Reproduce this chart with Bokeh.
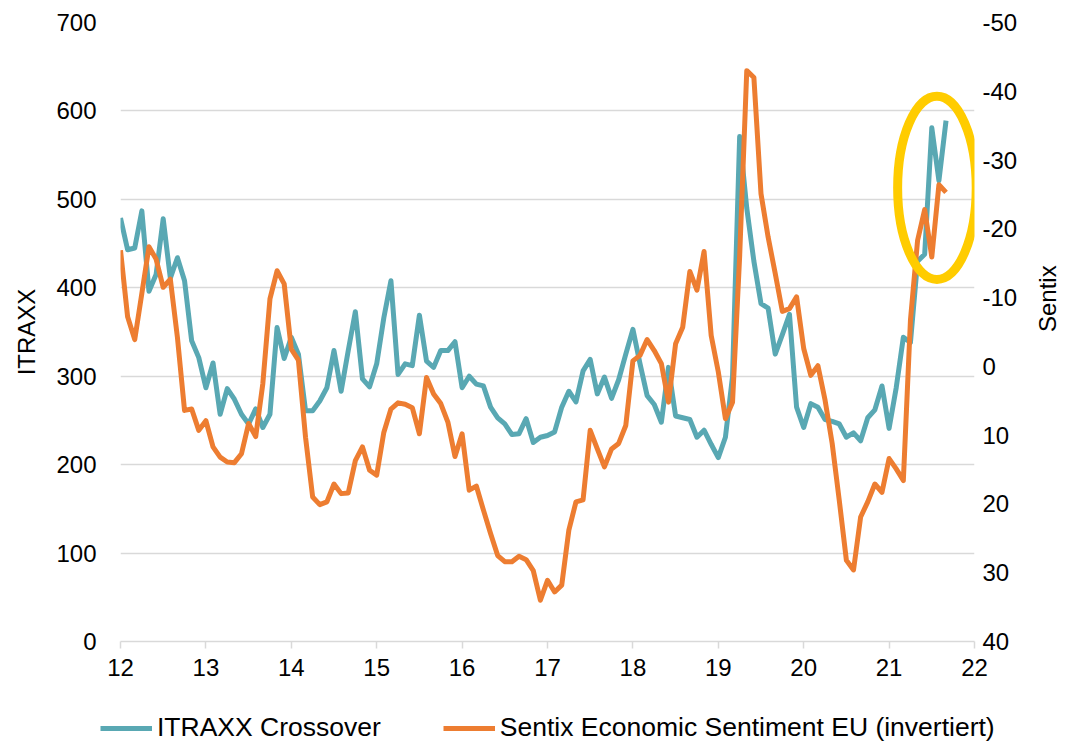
import math
from bokeh.plotting import figure
from bokeh.models import Range1d, LinearAxis, FixedTicker, Legend, LegendItem, ColumnDataSource
from bokeh.embed import file_html
from bokeh.resources import INLINE

# ---- data (monthly, Jan 2012 .. Sep 2021) ----
start_year = 12
itraxx = [479, 443, 445, 487, 396, 415, 478, 411, 434, 408,
          340, 321, 287, 315, 257, 286, 274, 257, 246, 263,
          242, 257, 355, 320, 344, 325, 261, 261, 272, 287,
          329, 283, 329, 373, 297, 288, 314, 366, 408, 302,
          314, 312, 369, 317, 310, 329, 329, 339, 287, 300,
          291, 289, 265, 253, 246, 234, 235, 252, 225, 231,
          233, 237, 265, 283, 271, 306, 319, 280, 299, 275,
          296, 325, 353, 314, 278, 268, 248, 310, 255, 253,
          251, 231, 239, 223, 208, 231, 300, 571, 490, 430,
          382, 377, 325, 347, 370, 265, 242, 269, 265, 251,
          249, 246, 231, 236, 227, 253, 262, 289, 241, 287,
          344, 338, 430, 438, 581, 521, 589]
sentix = [-16.9, -7.2, -3.9, -10.6, -17.4, -15.6, -11.5, -12.7, -4.2, 6.4,
          6.2, 9.3, 7.9, 11.7, 13.2, 13.9, 14.0, 12.7, 8.3, 10.2,
          2.5, -9.8, -13.9, -12.0, -2.5, -0.9, 10.3, 19.0, 20.1, 19.7,
          17.1, 18.5, 18.4, 13.7, 11.7, 15.1, 15.8, 9.6, 6.2, 5.3,
          5.5, 6.0, 9.8, 1.6, 4.0, 5.4, 8.1, 13.1, 9.8, 18.0,
          17.4, 20.9, 24.3, 27.5, 28.4, 28.4, 27.6, 28.1, 29.7, 34.0,
          31.1, 32.8, 31.8, 23.8, 19.7, 19.4, 9.3, 12.0, 14.6, 12.0,
          11.2, 8.6, -0.8, -1.6, -3.9, -2.3, -0.4, 5.2, -3.3, -5.7,
          -13.8, -11.1, -16.7, -4.5, 0.8, 7.6, 5.2, -16.0, -43.0, -42.0,
          -25.1, -18.8, -13.5, -8.0, -8.4, -10.1, -2.6, 1.3, -0.1, 4.9,
          11.2, 19.5, 28.2, 29.6, 21.9, 19.7, 17.1, 18.3, 13.4, 14.9,
          16.6, -6.7, -18.3, -22.8, -15.9, -26.4, -25.3]
x_ticks = list(range(12, 23))
itraxx_ticks = list(range(0, 701, 100))
sentix_ticks = list(range(-50, 41, 10))
series_names = ["ITRAXX Crossover", "Sentix Economic Sentiment EU (invertiert)"]
# highlight ellipse (x centre in years, y centre in ITRAXX units, size)
highlight = dict(x=21.56, y=513, w=0.92, h=207)

months = [start_year + i / 12 for i in range(len(itraxx))]
src = ColumnDataSource(dict(x=months, itraxx=itraxx, sentix=sentix))

FONT = "Liberation Sans"
TEAL = "#59A8B3"
ORANGE = "#ED7D31"
GRID = "#D9D9D9"

p = figure(width=1077, height=686, output_backend="svg", toolbar_location=None,
           x_range=Range1d(12, 22), y_range=Range1d(0, 700),
           min_border_left=120, min_border_right=102, min_border_top=22, min_border_bottom=45)
p.extra_y_ranges = {"sentix": Range1d(start=40, end=-50)}
p.outline_line_color = None
p.background_fill_color = "white"
p.border_fill_color = "white"

p.xgrid.visible = False
p.ygrid.ticker = FixedTicker(ticks=itraxx_ticks)
p.ygrid.grid_line_color = GRID
p.ygrid.grid_line_width = 1.5

# x axis
xa = p.xaxis[0]
xa.ticker = FixedTicker(ticks=x_ticks)
xa.axis_line_color = GRID
xa.axis_line_width = 1.5
xa.major_tick_line_color = GRID
xa.major_tick_line_width = 1.5
xa.major_tick_out = 7
xa.major_tick_in = 0
xa.minor_tick_line_color = None
xa.major_label_text_font = FONT
xa.major_label_text_font_size = "24px"
xa.major_label_text_color = "#000000"
xa.major_label_standoff = 10

# left axis
ya = p.yaxis[0]
ya.ticker = FixedTicker(ticks=itraxx_ticks)
ya.axis_line_color = None
ya.major_tick_line_color = None
ya.major_tick_out = 0
ya.major_tick_in = 0
ya.minor_tick_line_color = None
ya.minor_tick_out = 0
ya.major_label_text_font = FONT
ya.major_label_text_font_size = "24px"
ya.major_label_text_color = "#000000"
ya.major_label_standoff = 24
ya.axis_label = "ITRAXX"
ya.axis_label_text_font = FONT
ya.axis_label_text_font_size = "24px"
ya.axis_label_text_font_style = "normal"
ya.axis_label_text_color = "#000000"
ya.axis_label_standoff = 13

# right axis (inverted)
ra = LinearAxis(y_range_name="sentix", ticker=FixedTicker(ticks=sentix_ticks))
ra.major_label_overrides = {t: str(t) for t in sentix_ticks}
ra.axis_line_color = None
ra.major_tick_line_color = None
ra.major_tick_out = 0
ra.major_tick_in = 0
ra.minor_tick_line_color = None
ra.minor_tick_out = 0
ra.major_label_text_font = FONT
ra.major_label_text_font_size = "24px"
ra.major_label_text_color = "#000000"
ra.major_label_standoff = 8
ra.axis_label = "Sentix"
ra.axis_label_text_font = FONT
ra.axis_label_text_font_size = "24px"
ra.axis_label_text_font_style = "normal"
ra.axis_label_text_color = "#000000"
ra.axis_label_standoff = 27
if hasattr(ra, "axis_label_orientation"):
    ra.axis_label_orientation = math.pi / 2
p.add_layout(ra, "right")

p.line("x", "itraxx", source=src, line_color=TEAL, line_width=5, line_join="round")
p.line("x", "sentix", source=src, line_color=ORANGE, line_width=5, line_join="round",
       y_range_name="sentix")

p.ellipse(x=[highlight["x"]], y=[highlight["y"]], width=highlight["w"], height=highlight["h"],
          fill_alpha=0, line_color="#FFCC00", line_width=9)

# ---- legend strip below the chart (separate root, no frame alignment) ----
lg = figure(width=1077, height=57, output_backend="svg", toolbar_location=None,
            x_axis_type=None, y_axis_type=None, x_range=Range1d(0, 1), y_range=Range1d(0, 1),
            min_border_left=0, min_border_right=0, min_border_top=0, min_border_bottom=0)
lg.outline_line_color = None
lg.grid.visible = False
# proxy renderers (their points lie outside the visible range)
d1 = lg.line(x=[2, 3], y=[2, 3], line_color=TEAL, line_width=5)
d2 = lg.line(x=[2, 3], y=[2, 3], line_color=ORANGE, line_width=5)
legend = Legend(items=[LegendItem(label=series_names[0], renderers=[d1]),
                       LegendItem(label=series_names[1], renderers=[d2])],
                location=(100, 0), orientation="horizontal",
                label_text_font=FONT, label_text_font_size="26.5px", label_text_color="#000000",
                glyph_width=52, glyph_height=26, label_standoff=5, spacing=62,
                padding=0, margin=0, background_fill_alpha=0, border_line_color=None)
lg.add_layout(legend)

open("out.html", "w").write(file_html([p, lg], INLINE))
